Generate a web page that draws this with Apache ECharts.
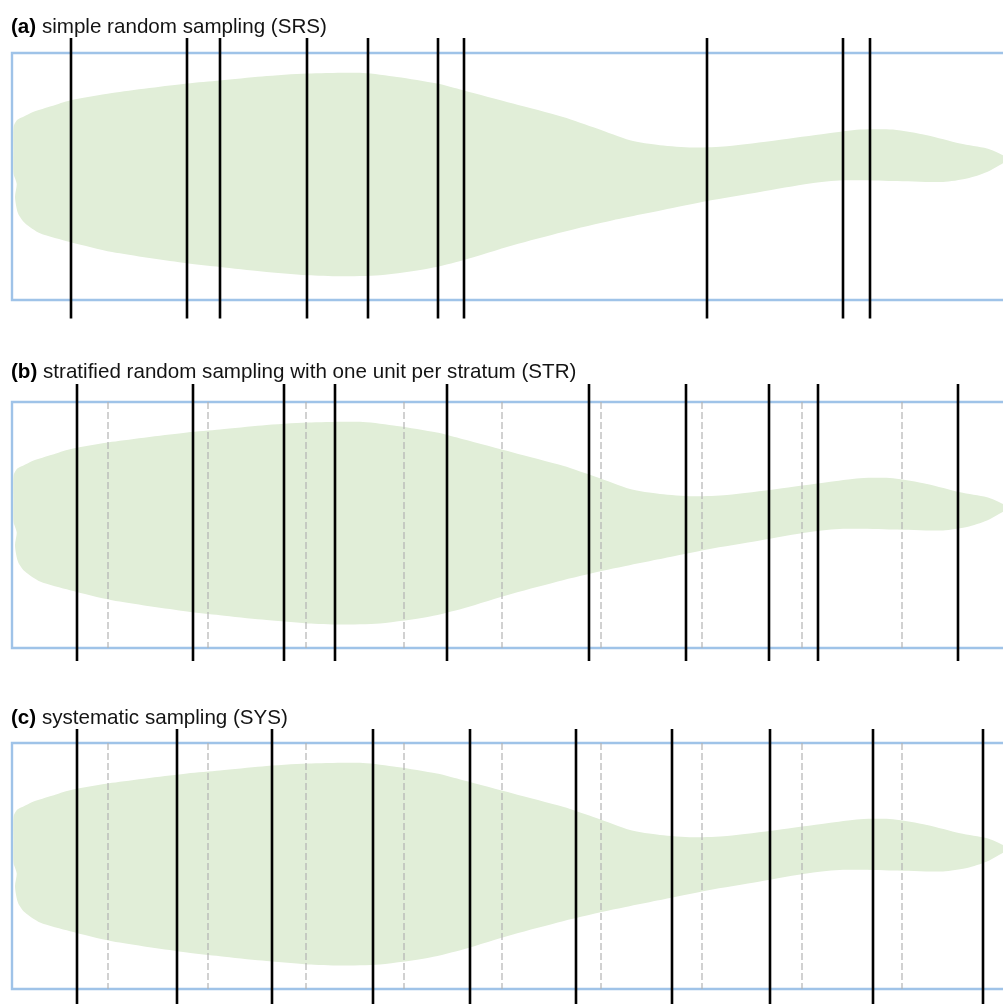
<!DOCTYPE html>
<html>
<head>
<meta charset="utf-8">
<script src="https://cdn.jsdelivr.net/npm/echarts@6/dist/echarts.min.js"></script>
<style>
  html, body { margin: 0; padding: 0; background: #ffffff; }
  #chart { width: 1003px; height: 1004px; }
</style>
</head>
<body>
<div id="chart"></div>
<script>
// Positions along the transect (distance from the left edge of the study area)
const srsSamples = [59, 175, 208, 295, 356, 426, 452, 695, 831, 858];
const strSamples = [65, 181, 272, 323, 435, 577, 674, 757, 806, 946];
const sysSamples = [65, 165, 260, 361, 458, 564, 660, 758, 861, 971];
const strataBounds = [96, 196, 294, 392, 490, 589, 690, 790, 890];

// Outline of the habitat patch (x along transect, y down from the top edge)
const patchX = [1.5, 5, 11, 21, 40, 58, 100, 175, 208, 250, 295, 351, 385, 425, 451, 501, 551, 585, 618, 648,
  681, 715, 765, 815, 848, 881, 915, 948, 975, 991, 997, 991, 975, 955, 931, 881, 831, 798, 748, 695,
  658, 601, 551, 501, 451, 418, 368, 328, 295, 250, 208, 175, 100, 58, 28, 13, 6, 3, 4.7, 1.5, 1.3];
const patchY = [74, 67, 64, 59, 53, 47.5, 40, 30.5, 27.5, 23.5, 20.6, 20, 24, 30.6, 37.3, 50.6, 64, 75.6, 87.3, 92.3,
  94.6, 93.3, 87.3, 80.6, 76.6, 76.6, 82.3, 90.6, 95.6, 102.3, 106.5, 110.3, 119, 125.6, 129, 128, 127.3, 130.6, 139, 148,
  155.6, 167.3, 179, 192.3, 207.3, 215.3, 222.3, 223.3, 222.3, 218.5, 214, 210.3, 199, 189, 180.3, 170.3, 160.3, 144, 131, 120.3, 97];

const panelTags = ['(a)', '(b)', '(c)'];
const panelTitles = [
  'simple random sampling (SRS)',
  'stratified random sampling with one unit per stratum (STR)',
  'systematic sampling (SYS)'
];

const FONT = '"Liberation Sans", Arial, sans-serif';
const AREA_W = 995;   // transect length
const AREA_H = 247;   // depth of the study area

// Layout of the three panels
const panels = [
  { top: 53,  height: 247, titleTop: 17,  lineFrom: -15, lineTo: 265.5, samples: srsSamples, strata: false },
  { top: 402, height: 246, titleTop: 362, lineFrom: -18, lineTo: 260,   samples: strSamples, strata: true },
  { top: 743, height: 246, titleTop: 708, lineFrom: -14, lineTo: 290,   samples: sysSamples, strata: true }
];

const patchData = patchX.map((x, i) => [x, patchY[i]]);

function patchSeries(idx) {
  return {
    type: 'custom',
    xAxisIndex: idx, yAxisIndex: idx,
    z: 1, silent: true,
    data: patchData,
    renderItem: function (params, api) {
      if (params.dataIndexInside !== 0) return null;
      const pts = [];
      for (let i = 0; i < params.dataInsideLength; i++) {
        pts.push(api.coord([api.value(0, i), api.value(1, i)]));
      }
      return {
        type: 'polygon',
        shape: { points: pts, smooth: 0.25 },
        style: { fill: '#e1eed8', stroke: null }
      };
    }
  };
}

function verticalLines(idx, xs, y0, y1, style, z) {
  return {
    type: 'custom',
    xAxisIndex: idx, yAxisIndex: idx,
    z: z, silent: true, clip: false,
    data: xs.map(v => [v, 0]),
    renderItem: function (params, api) {
      const x = api.value(0);
      const a = api.coord([x, y0]);
      const b = api.coord([x, y1]);
      return {
        type: 'line',
        shape: { x1: a[0], y1: a[1], x2: b[0], y2: b[1] },
        style: style
      };
    }
  };
}

const grids = [], xAxes = [], yAxes = [], titles = [], series = [];
panels.forEach((p, i) => {
  grids.push({
    left: 12, top: p.top, width: AREA_W, height: p.height,
    outerBoundsMode: 'none', containLabel: false,
    show: true, borderColor: '#9fc3e8', borderWidth: 2.4, backgroundColor: 'transparent'
  });
  xAxes.push({
    type: 'value', gridIndex: i, min: 0, max: AREA_W,
    axisLine: { show: false }, axisTick: { show: false }, axisLabel: { show: false }, splitLine: { show: false }
  });
  yAxes.push({
    type: 'value', gridIndex: i, min: 0, max: AREA_H, inverse: true,
    axisLine: { show: false }, axisTick: { show: false }, axisLabel: { show: false }, splitLine: { show: false }
  });
  titles.push({
    text: '{t|' + panelTags[i] + '} ' + panelTitles[i],
    left: 11, top: p.titleTop, padding: 0,
    textStyle: {
      fontFamily: FONT, fontSize: 20.6, fontWeight: 'normal', color: '#141414',
      rich: { t: { fontFamily: FONT, fontSize: 20.6, fontWeight: 'bold', color: '#000000' } }
    }
  });
  series.push(patchSeries(i));
  if (p.strata) {
    series.push(verticalLines(i, strataBounds, 0, AREA_H,
      { stroke: '#b3b3b3', lineWidth: 1.2, lineDash: [7, 3] }, 2));
  }
  series.push(verticalLines(i, p.samples, p.lineFrom, p.lineTo,
    { stroke: '#000000', lineWidth: 2.6 }, 3));
});

const chart = echarts.init(document.getElementById('chart'), null, { renderer: 'canvas' });
chart.setOption({
  animation: false,
  backgroundColor: '#ffffff',
  title: titles,
  grid: grids,
  xAxis: xAxes,
  yAxis: yAxes,
  series: series
});
</script>
</body>
</html>
